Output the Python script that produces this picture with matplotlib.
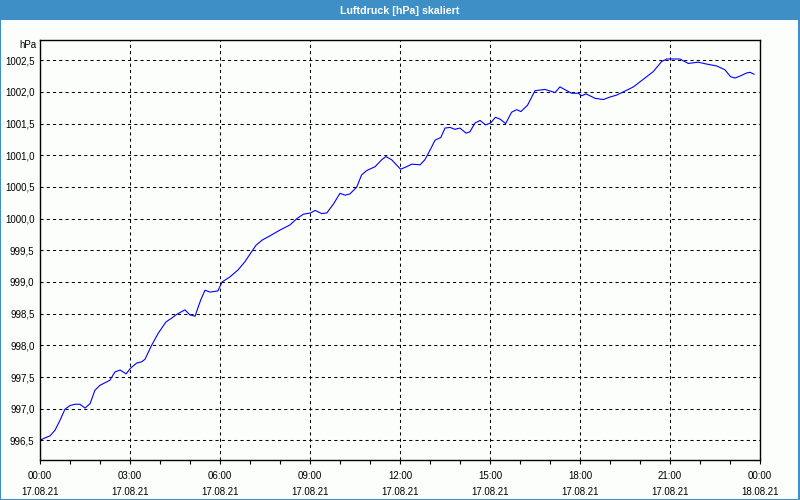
import matplotlib

matplotlib.use("Agg")
import matplotlib.pyplot as plt
from matplotlib.patches import Rectangle
from matplotlib.ticker import MultipleLocator, FixedLocator

plt.rcParams["font.family"] = ["Liberation Sans", "DejaVu Sans"]

# --- Data (hours since 17.08.21 00:00, pressure in hPa) ---
hours = [
    0.00, 0.17, 0.33, 0.50, 0.67, 0.83, 1.00, 1.17, 1.33, 1.50, 1.67, 1.83,
    2.00, 2.17, 2.33, 2.50, 2.67, 2.87, 3.02, 3.22, 3.39, 3.50, 3.72, 3.94,
    4.20, 4.39, 4.56, 4.83, 5.00, 5.17, 5.24, 5.36, 5.50, 5.67, 5.93, 6.07,
    6.33, 6.60, 6.83, 7.00, 7.20, 7.40, 7.67, 8.00, 8.33, 8.56, 8.78, 9.02,
    9.17, 9.39, 9.56, 9.78, 10.00, 10.17, 10.33, 10.56, 10.72, 10.89, 11.17,
    11.39, 11.53, 11.72, 12.02, 12.22, 12.39, 12.67, 12.83, 13.00, 13.17,
    13.36, 13.50, 13.67, 13.83, 14.00, 14.20, 14.33, 14.50, 14.67, 14.85,
    15.02, 15.18, 15.34, 15.52, 15.72, 15.89, 16.03, 16.25, 16.50, 16.83,
    17.17, 17.33, 17.56, 17.72, 17.94, 18.06, 18.20, 18.50, 18.78, 19.00,
    19.22, 19.44, 19.78, 20.00, 20.22, 20.44, 20.72, 20.89, 21.33, 21.61,
    21.94, 22.22, 22.56, 22.83, 23.02, 23.17, 23.33, 23.56, 23.67, 23.80,
]
pressure = [
    996.50, 996.54, 996.57, 996.66, 996.82, 996.99, 997.05, 997.07, 997.07,
    997.01, 997.08, 997.29, 997.37, 997.41, 997.45, 997.58, 997.61, 997.55,
    997.64, 997.72, 997.74, 997.78, 998.00, 998.19, 998.37, 998.43, 998.49,
    998.56, 998.48, 998.46, 998.56, 998.72, 998.87, 998.84, 998.86, 999.00,
    999.08, 999.19, 999.32, 999.44, 999.58, 999.66, 999.73, 999.82, 999.90,
    1000.00, 1000.07, 1000.09, 1000.13, 1000.08, 1000.09, 1000.23, 1000.40,
    1000.37, 1000.39, 1000.50, 1000.69, 1000.76, 1000.82, 1000.93, 1000.98,
    1000.93, 1000.78, 1000.82, 1000.86, 1000.85, 1000.93, 1001.08, 1001.24,
    1001.28, 1001.43, 1001.44, 1001.41, 1001.43, 1001.35, 1001.37, 1001.51,
    1001.55, 1001.48, 1001.51, 1001.60, 1001.57, 1001.50, 1001.68, 1001.72,
    1001.69, 1001.79, 1002.02, 1002.04, 1001.99, 1002.08, 1002.02, 1001.98,
    1001.98, 1001.94, 1001.97, 1001.90, 1001.88, 1001.92, 1001.95, 1002.00,
    1002.08, 1002.16, 1002.24, 1002.32, 1002.48, 1002.52, 1002.52, 1002.45,
    1002.47, 1002.44, 1002.41, 1002.35, 1002.24, 1002.22, 1002.25, 1002.30,
    1002.31, 1002.28,
]

x_ticks = [0, 3, 6, 9, 12, 15, 18, 21, 24]
x_labels = [
    "00:00\n17.08.21", "03:00\n17.08.21", "06:00\n17.08.21", "09:00\n17.08.21",
    "12:00\n17.08.21", "15:00\n17.08.21", "18:00\n17.08.21", "21:00\n17.08.21",
    "00:00\n18.08.21",
]
y_ticks = [996.5, 997.0, 997.5, 998.0, 998.5, 999.0, 999.5,
           1000.0, 1000.5, 1001.0, 1001.5, 1002.0, 1002.5]
y_labels = [f"{v:.1f}".replace(".", ",") for v in y_ticks]

title = "Luftdruck [hPa] skaliert"
bar_blue = "#3d8fc6"
fs = 7.0

fig = plt.figure(figsize=(8, 5), dpi=100, facecolor="#fcfefc")
ax = fig.add_axes([0.05, 0.08, 0.90, 0.84])
ax.set_facecolor("#fcfefc")

ax.plot(hours, pressure, color="#0000ff", lw=0.8)

ax.set_xlim(0, 24)
ax.set_ylim(996.19, 1002.82)

ax.xaxis.set_major_locator(FixedLocator(x_ticks))
ax.xaxis.set_minor_locator(MultipleLocator(1))
ax.set_xticklabels(x_labels, fontsize=fs, linespacing=1.7)
ax.yaxis.set_major_locator(FixedLocator(y_ticks))
ax.set_yticklabels(y_labels, fontsize=fs)

ax.tick_params(axis="x", which="both", direction="out", length=3, width=0.8, pad=5)
ax.tick_params(axis="y", length=0, pad=4)

ax.grid(True, which="major", color="black", lw=0.75, linestyle=(0, (3, 3)))
for s in ax.spines.values():
    s.set_linewidth(1)
    s.set_color("black")

# "hPa" unit label above the y axis
fig.text(36 / 800, 1 - 45 / 500, "hPa", ha="right", va="center", fontsize=fs)

# title bar
fig.patches.append(Rectangle((0, 0.96), 1, 0.04, transform=fig.transFigure,
                             facecolor=bar_blue, edgecolor="none", zorder=0))
fig.text(0.5, 0.979, title, ha="center", va="center", fontsize=7.7,
         color="white", fontweight="bold")

# window frame
fig.patches.append(Rectangle((0.0006, 0.001), 0.9982, 0.998, transform=fig.transFigure,
                             facecolor="none", edgecolor=bar_blue, lw=1.5, zorder=5))

fig.savefig("out.png", dpi=100, facecolor=fig.get_facecolor())
plt.close(fig)
